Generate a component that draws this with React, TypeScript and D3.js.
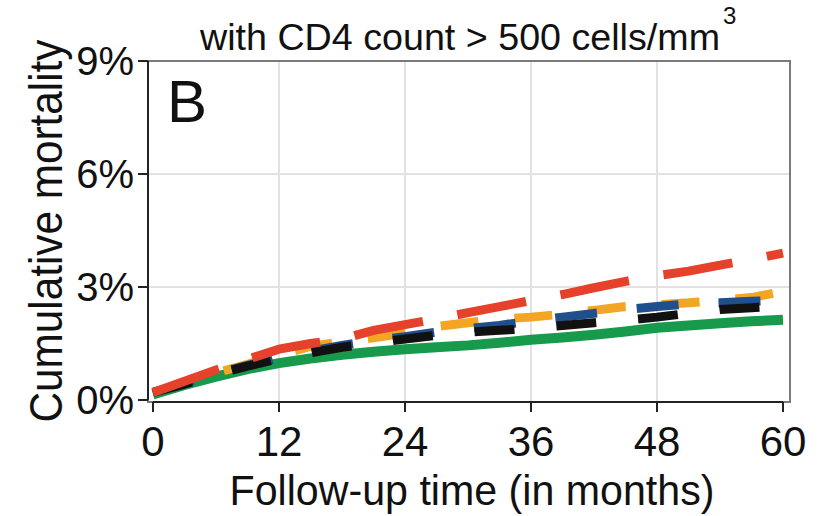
import * as d3 from "d3";

const WIDTH = 830;
const HEIGHT = 516;

// follow-up months where the curves were read
const months = [0, 3, 6, 9, 12, 15, 18, 21, 24, 27, 30, 33, 36, 39, 42, 45, 48, 51, 54, 57, 60];

// cumulative mortality (%) per group
const greenValues = [0.15, 0.4, 0.62, 0.82, 0.98, 1.1, 1.2, 1.28, 1.35, 1.4, 1.45, 1.52, 1.6, 1.66, 1.73, 1.82, 1.92, 1.98, 2.04, 2.09, 2.13];
const orangeValues = [0.2, 0.45, 0.72, 0.95, 1.2, 1.42, 1.55, 1.65, 1.78, 1.95, 2.05, 2.15, 2.2, 2.28, 2.38, 2.48, 2.53, 2.58, 2.65, 2.72, 2.88];
const blueValues = [0.2, 0.45, 0.7, 0.92, 1.12, 1.3, 1.45, 1.58, 1.68, 1.8, 1.9, 1.98, 2.1, 2.2, 2.3, 2.4, 2.48, 2.55, 2.58, 2.62, 2.65];
const blackValues = [0.2, 0.42, 0.68, 0.9, 1.1, 1.25, 1.4, 1.52, 1.62, 1.72, 1.8, 1.85, 1.9, 1.98, 2.05, 2.12, 2.2, 2.3, 2.4, 2.45, 2.5];
const redValues = [0.2, 0.5, 0.8, 1.08, 1.35, 1.5, 1.62, 1.85, 2.0, 2.15, 2.32, 2.48, 2.64, 2.8, 2.98, 3.15, 3.3, 3.42, 3.58, 3.73, 3.9];

const xTicks = [0, 12, 24, 36, 48, 60];
const yTicks = [0, 3, 6, 9];

const series = [
  { name: "green", values: greenValues, color: "#179a4c", dash: null, width: 10 },
  { name: "orange", values: orangeValues, color: "#f2a623", dash: "38 36", width: 9 },
  { name: "blue", values: blueValues, color: "#1f4f8c", dash: "42 40", width: 9 },
  { name: "black", values: blackValues, color: "#111111", dash: "40 42", width: 9 },
  { name: "red", values: redValues, color: "#e5412b", dash: "70 35", width: 9 },
];

const PANEL = { left: 148, right: 790, top: 61, bottom: 402 };
const FONT = "'Liberation Sans', Arial, sans-serif";

export default function App() {
  const xScale = d3.scaleLinear().domain([0, 60]).range([153, 783]);
  const yScale = d3.scaleLinear().domain([0, 9]).range([400, 61]);

  const lineBuilder = d3
    .line<[number, number]>()
    .x((d) => xScale(d[0]))
    .y((d) => yScale(d[1]))
    .curve(d3.curveLinear);

  return (
    <svg
      width={WIDTH}
      height={HEIGHT}
      style={{ position: "absolute", left: 0, top: 0, background: "#fff" }}
      fontFamily={FONT}
    >
      <rect x={0} y={0} width={WIDTH} height={HEIGHT} fill="#fff" />

      {/* grid */}
      {xTicks.slice(1, -1).map((t) => (
        <line key={"gx" + t} x1={xScale(t)} x2={xScale(t)} y1={PANEL.top} y2={PANEL.bottom} stroke="#e2e2e2" strokeWidth={2} />
      ))}
      {yTicks.slice(1, -1).map((t) => (
        <line key={"gy" + t} x1={PANEL.left} x2={PANEL.right} y1={yScale(t)} y2={yScale(t)} stroke="#e2e2e2" strokeWidth={2} />
      ))}

      {/* curves */}
      {series.map((s) => (
        <path
          key={s.name}
          d={lineBuilder(months.map((m, i) => [m, s.values[i]] as [number, number])) || ""}
          fill="none"
          stroke={s.color}
          strokeWidth={s.width}
          strokeDasharray={s.dash || undefined}
          strokeLinecap="butt"
        />
      ))}

      {/* panel border */}
      <rect
        x={PANEL.left}
        y={PANEL.top}
        width={PANEL.right - PANEL.left}
        height={PANEL.bottom - PANEL.top}
        fill="none"
        stroke="#7a7a7a"
        strokeWidth={2}
      />

      {/* x axis */}
      <line x1={xScale(0)} x2={xScale(60)} y1={PANEL.bottom} y2={PANEL.bottom} stroke="#222" strokeWidth={2} />
      {xTicks.map((t) => (
        <g key={"xt" + t}>
          <line x1={xScale(t)} x2={xScale(t)} y1={PANEL.bottom} y2={PANEL.bottom + 10} stroke="#222" strokeWidth={2} />
          <text x={xScale(t)} y={456} textAnchor="middle" fontSize={42} fill="#111">
            {t}
          </text>
        </g>
      ))}

      {/* y axis */}
      <line x1={PANEL.left} x2={PANEL.left} y1={yScale(0)} y2={yScale(9)} stroke="#222" strokeWidth={2} />
      {yTicks.map((t) => (
        <g key={"yt" + t}>
          <line x1={PANEL.left - 10} x2={PANEL.left} y1={yScale(t)} y2={yScale(t)} stroke="#222" strokeWidth={2} />
          <text x={134} y={yScale(t)} dy="0.36em" textAnchor="end" fontSize={40} fill="#111">
            {t + "%"}
          </text>
        </g>
      ))}

      {/* panel letter */}
      <text x={167} y={122} fontSize={60} fill="#111">
        B
      </text>

      {/* title */}
      <text x={200} y={50} fontSize={37} fill="#111">
        <tspan textLength={520} lengthAdjust="spacingAndGlyphs">with CD4 count &gt; 500 cells/mm</tspan>
        <tspan fontSize={24} dx={3} dy={-26}>3</tspan>
      </text>

      {/* axis titles */}
      <text x={472} y={505} textAnchor="middle" fontSize={43} textLength={485} lengthAdjust="spacingAndGlyphs" fill="#111">
        Follow-up time (in months)
      </text>
      <text
        transform="translate(62,231) rotate(-90)"
        textAnchor="middle"
        fontSize={46}
        textLength={383}
        lengthAdjust="spacingAndGlyphs"
        fill="#111"
      >
        Cumulative mortality
      </text>
    </svg>
  );
}
